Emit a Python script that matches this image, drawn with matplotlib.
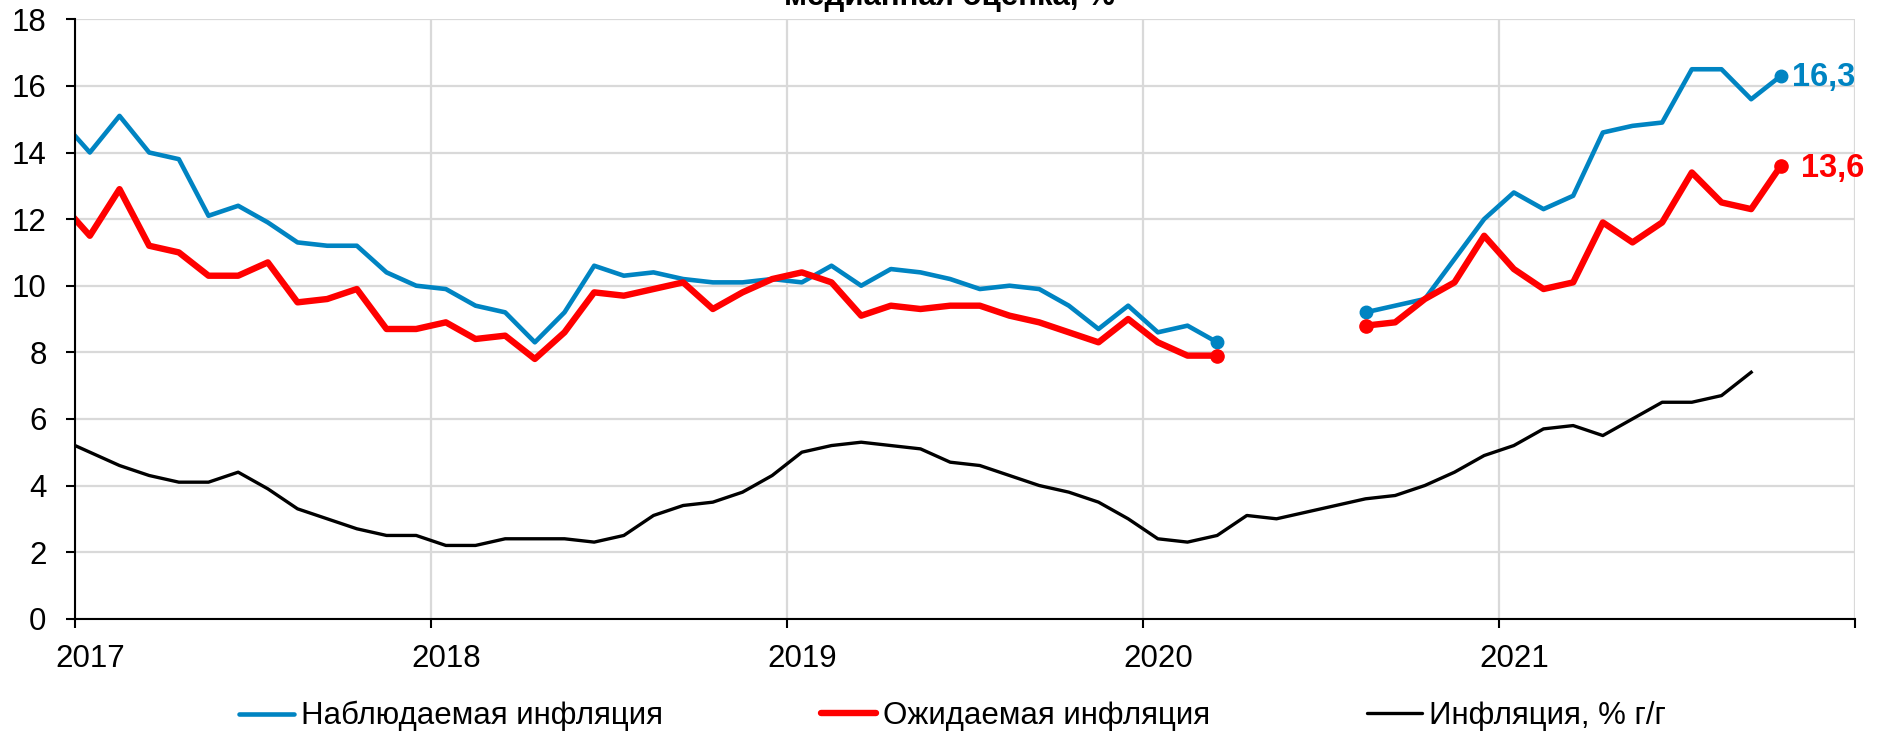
import numpy as np
import pandas as pd
import matplotlib
matplotlib.use("Agg")
import matplotlib.pyplot as plt
from matplotlib.lines import Line2D

plt.rcParams['font.family'] = ['Liberation Sans', 'DejaVu Sans']

nan = np.nan
# Monthly data, Dec 2016 .. Oct 2021
months = pd.period_range('2016-12', '2021-10', freq='M')

observed = ([15.0] +
            [14.0, 15.1, 14.0, 13.8, 12.1, 12.4, 11.9, 11.3, 11.2, 11.2, 10.4, 10.0] +
            [9.9, 9.4, 9.2, 8.3, 9.2, 10.6, 10.3, 10.4, 10.2, 10.1, 10.1, 10.2] +
            [10.1, 10.6, 10.0, 10.5, 10.4, 10.2, 9.9, 10.0, 9.9, 9.4, 8.7, 9.4] +
            [8.6, 8.8, 8.3, nan, nan, nan, nan, 9.2, 9.4, 9.6, 10.8, 12.0] +
            [12.8, 12.3, 12.7, 14.6, 14.8, 14.9, 16.5, 16.5, 15.6, 16.3])

expected = ([12.5] +
            [11.5, 12.9, 11.2, 11.0, 10.3, 10.3, 10.7, 9.5, 9.6, 9.9, 8.7, 8.7] +
            [8.9, 8.4, 8.5, 7.8, 8.6, 9.8, 9.7, 9.9, 10.1, 9.3, 9.8, 10.2] +
            [10.4, 10.1, 9.1, 9.4, 9.3, 9.4, 9.4, 9.1, 8.9, 8.6, 8.3, 9.0] +
            [8.3, 7.9, 7.9, nan, nan, nan, nan, 8.8, 8.9, 9.6, 10.1, 11.5] +
            [10.5, 9.9, 10.1, 11.9, 11.3, 11.9, 13.4, 12.5, 12.3, 13.6])

cpi = ([5.4] +
       [5.0, 4.6, 4.3, 4.1, 4.1, 4.4, 3.9, 3.3, 3.0, 2.7, 2.5, 2.5] +
       [2.2, 2.2, 2.4, 2.4, 2.4, 2.3, 2.5, 3.1, 3.4, 3.5, 3.8, 4.3] +
       [5.0, 5.2, 5.3, 5.2, 5.1, 4.7, 4.6, 4.3, 4.0, 3.8, 3.5, 3.0] +
       [2.4, 2.3, 2.5, 3.1, 3.0, 3.2, 3.4, 3.6, 3.7, 4.0, 4.4, 4.9] +
       [5.2, 5.7, 5.8, 5.5, 6.0, 6.5, 6.5, 6.7, 7.4, nan])

years = [2017, 2018, 2019, 2020, 2021]
year_labels = ['2017', '2018', '2019', '2020', '2021']
legend_labels = ['Наблюдаемая инфляция', 'Ожидаемая инфляция', 'Инфляция, % г/г']
title = 'медианная оценка, %'

BLUE = '#0084C2'
RED = '#FF0000'
BLACK = '#000000'
GRID = '#D9D9D9'
FS = 22.5

x = np.array([p.year + (p.month - 0.5) / 12 for p in months])
obs = np.array(observed, dtype=float)
exp_ = np.array(expected, dtype=float)
inf = np.array(cpi, dtype=float)


def seg_ends(v):
    idx = []
    for i in range(1, len(v)):
        if np.isnan(v[i]):
            continue
        prev_nan = np.isnan(v[i - 1])
        next_nan = (i == len(v) - 1) or np.isnan(v[i + 1])
        if prev_nan or next_nan:
            idx.append(i)
    return idx


fig = plt.figure(figsize=(18.77, 7.32), dpi=100)
ax = fig.add_axes([0.03996, 0.15478, 0.94832, 0.81885])

ax.plot(x, inf, color=BLACK, lw=2.4, solid_joinstyle='round', zorder=3)
ax.plot(x, obs, color=BLUE, lw=3.3, solid_joinstyle='round', zorder=4)
ax.plot(x, exp_, color=RED, lw=4.6, solid_joinstyle='round', zorder=5)

for v, c, ms, z in [(obs, BLUE, 9, 4), (exp_, RED, 9.5, 5)]:
    ii = seg_ends(v)
    ax.plot(x[ii], v[ii], 'o', color=c, ms=ms, zorder=z, clip_on=False)

# end-value labels
for v, c, dx, dy in [(obs, BLUE, 8, -1), (exp_, RED, 14.5, -2)]:
    ax.annotate(f"{v[-1]:.1f}".replace('.', ','), (x[-1], v[-1]),
                xytext=(dx, dy), textcoords='offset points',
                ha='left', va='center', color=c, fontsize=23.5,
                fontweight='bold', annotation_clip=False, zorder=6)

ax.set_xlim(2017, 2022)
ax.set_ylim(0, 18)
ax.set_yticks(np.arange(0, 19, 2))
ax.set_yticklabels([str(t) for t in range(0, 19, 2)], fontsize=FS)
ax.set_xticks(list(years) + [2022])
ax.set_xticklabels([''] * 6)
ax.set_xticks([y + 0.5 / 12 for y in years], minor=True)
ax.set_xticklabels(year_labels, minor=True, fontsize=FS)
ax.tick_params(axis='x', which='major', length=6.5, width=1.5, color=BLACK)
ax.tick_params(axis='x', which='minor', length=0, pad=18)
ax.tick_params(axis='y', length=6.5, width=1.5, pad=14, color=BLACK)

ax.grid(True, which='major', color=GRID, lw=1.6)
ax.set_axisbelow(True)
for s in ['top', 'right']:
    ax.spines[s].set_visible(False)
for s in ['left', 'bottom']:
    ax.spines[s].set_color(BLACK)
    ax.spines[s].set_linewidth(1.5)
    ax.spines[s].set_zorder(6)

fig.text(0.5056, 0.9925, title, ha='center', va='baseline', fontsize=FS,
         fontweight='bold')

for lab, c, lw, xf in [(legend_labels[0], BLUE, 3.3, 0.1273),
                       (legend_labels[1], RED, 4.6, 0.4374),
                       (legend_labels[2], BLACK, 2.4, 0.7283)]:
    h = Line2D([], [], color=c, lw=lw, solid_capstyle='round')
    fig.legend(handles=[h], labels=[lab], loc='center left',
               bbox_to_anchor=(xf, 0.0215), frameon=False, borderpad=0,
               borderaxespad=0, handlelength=1.77, handletextpad=0.2,
               fontsize=FS)

fig.savefig('out.png', dpi=100)
